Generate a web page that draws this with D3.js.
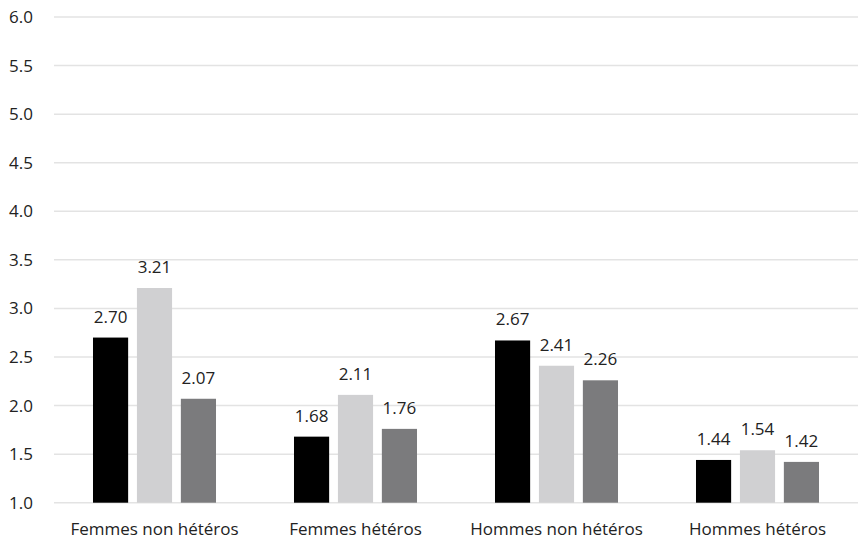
<!DOCTYPE html>
<html>
<head>
<meta charset="utf-8">
<script src="https://cdn.jsdelivr.net/npm/d3@7"></script>
<style>
  body { margin: 0; background: #fff; }
  svg text { font-family: "Open Sans", sans-serif; fill: #222; }
</style>
</head>
<body>
<svg id="chart" width="858" height="544"></svg>
<script>
// categories and series values
var categories = ["Femmes non hétéros", "Femmes hétéros", "Hommes non hétéros", "Hommes hétéros"];
var seriesNames = ["s1", "s2", "s3"];
var seriesColors = ["#000000", "#d0d0d2", "#7b7b7d"];
var values1 = [2.70, 1.68, 2.67, 1.44];
var values2 = [3.21, 2.11, 2.41, 1.54];
var values3 = [2.07, 1.76, 2.26, 1.42];
var yTicks = [1.0, 1.5, 2.0, 2.5, 3.0, 3.5, 4.0, 4.5, 5.0, 5.5, 6.0];

var data = categories.map(function(c, i) {
  return { cat: c, vals: [values1[i], values2[i], values3[i]] };
});

var svg = d3.select("svg#chart");

var margin = {top: 17, right: 858, bottom: 502.7, left: 54};
var fontSize = 17;

var x0 = d3.scaleBand()
  .domain(categories)
  .range([margin.left, margin.right])
  .paddingInner(0.388)
  .paddingOuter(0.194);

var x1 = d3.scaleBand()
  .domain(seriesNames)
  .range([0, x0.bandwidth()])
  .paddingInner(0.2);

var y = d3.scaleLinear()
  .domain([1, 6])
  .range([margin.bottom, margin.top]);

// gridlines
svg.append("g")
  .selectAll("line")
  .data(yTicks)
  .enter().append("line")
  .attr("x1", margin.left)
  .attr("x2", margin.right)
  .attr("y1", function(d) { return y(d); })
  .attr("y2", function(d) { return y(d); })
  .attr("stroke", "#e3e3e3")
  .attr("stroke-width", 1.5);

// y axis labels
var yAxis = svg.append("g")
  .attr("transform", "translate(" + margin.left + ",0)")
  .call(d3.axisLeft(y).tickValues(yTicks).tickFormat(d3.format(".1f")).tickSize(0).tickPadding(21));
yAxis.select(".domain").remove();
yAxis.selectAll("text")
  .style("font-family", "'Open Sans', sans-serif")
  .attr("font-size", fontSize)
  .attr("fill", "#222");

// x axis labels
var xAxis = svg.append("g")
  .attr("transform", "translate(0," + margin.bottom + ")")
  .call(d3.axisBottom(x0).tickSize(0).tickPadding(20));
xAxis.select(".domain").remove();
xAxis.selectAll("text")
  .style("font-family", "'Open Sans', sans-serif")
  .attr("font-size", fontSize)
  .attr("fill", "#222");

// bars
var groups = svg.append("g")
  .selectAll("g")
  .data(data)
  .enter().append("g")
  .attr("transform", function(d) { return "translate(" + x0(d.cat) + ",0)"; });

groups.selectAll("rect")
  .data(function(d) { return d.vals.map(function(v, i) { return { key: seriesNames[i], v: v, i: i }; }); })
  .enter().append("rect")
  .attr("x", function(d) { return x1(d.key); })
  .attr("y", function(d) { return y(d.v); })
  .attr("width", x1.bandwidth())
  .attr("height", function(d) { return y(1) - y(d.v); })
  .attr("fill", function(d) { return seriesColors[d.i]; });

groups.selectAll("text.val")
  .data(function(d) { return d.vals.map(function(v, i) { return { key: seriesNames[i], v: v }; }); })
  .enter().append("text")
  .attr("class", "val")
  .attr("x", function(d) { return x1(d.key) + x1.bandwidth() / 2; })
  .attr("y", function(d) { return y(d.v) - 15; })
  .attr("text-anchor", "middle")
  .attr("font-size", fontSize)
  .text(function(d) { return d3.format(".2f")(d.v); });
</script>
</body>
</html>
